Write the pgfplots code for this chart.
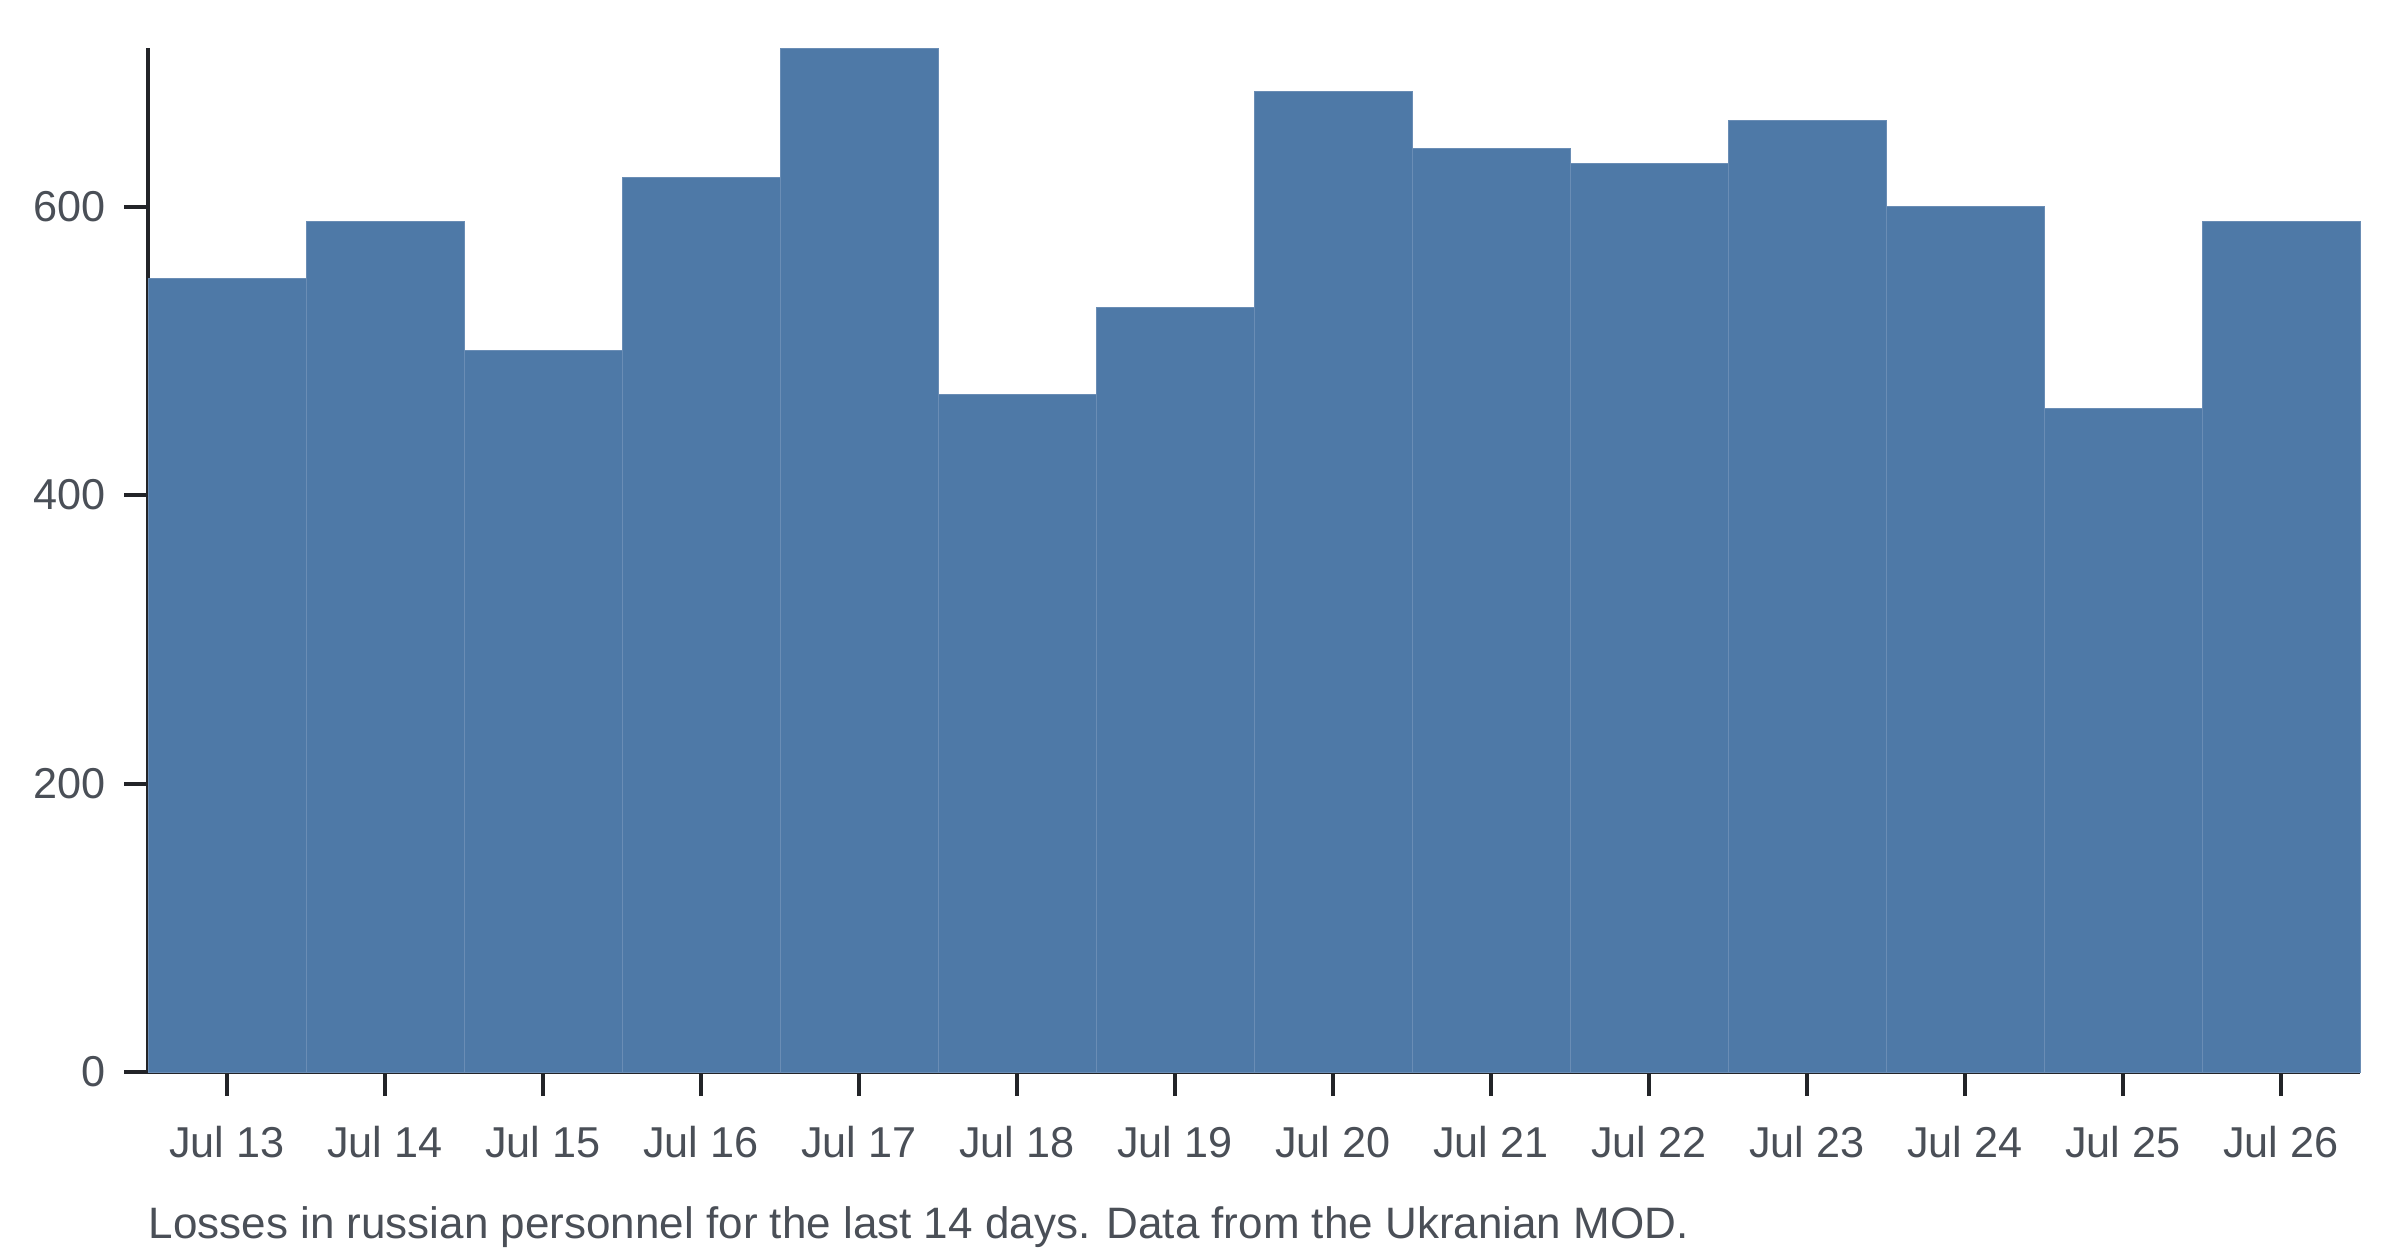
\documentclass[border=0pt]{standalone}
\usepackage{pgfplots}
\pgfplotsset{compat=1.18}
\usepackage{fontspec}
\setmainfont{Liberation Sans}
\definecolor{barblue}{HTML}{4E79A7}
\definecolor{baredge}{HTML}{6A8DB5}
\definecolor{txt}{HTML}{4A4F57}
\definecolor{axc}{HTML}{222428}
\begin{document}
\begin{tikzpicture}
\begin{axis}[
  width=553pt, height=256pt, scale only axis,
  xmin=-0.5, xmax=13.5, ymin=0, ymax=710,
  enlargelimits=false,
  axis lines=left,
  axis line style={-, axc, line width=1.1pt},
  ybar, bar width=1, bar shift=0pt,
  xtick={0,...,13},
  xticklabels={Jul 13,Jul 14,Jul 15,Jul 16,Jul 17,Jul 18,Jul 19,Jul 20,Jul 21,Jul 22,Jul 23,Jul 24,Jul 25,Jul 26},
  ytick={0,200,400,600},
  tick align=outside,
  major tick length=6pt,
  tick style={axc, line width=1pt},
  ticklabel style={font=\fontsize{10.8}{13}\selectfont, text=txt},
  /pgf/number format/assume math mode=true,
  xticklabel style={yshift=-4pt},
  yticklabel style={xshift=-1pt},
  clip=false,
]
\addplot[fill=barblue, draw=baredge, line width=0.25pt] coordinates {
(0,550) (1,590) (2,500) (3,620) (4,710) (5,470) (6,530)
(7,680) (8,640) (9,630) (10,660) (11,600) (12,460) (13,590)};
\node[anchor=base west, inner sep=0pt, font=\fontsize{11}{13}\selectfont, text=txt]
  at ([yshift=-41.5pt]axis description cs:0,0) {Losses in russian personnel for the last 14 days. Data from the Ukranian MOD.};
\path ([xshift=-37pt,yshift=-46pt]axis description cs:0,0) coordinate (bbsw);
\end{axis}
\path[use as bounding box] (bbsw) rectangle ++(600pt,314pt);
\end{tikzpicture}
\end{document}
